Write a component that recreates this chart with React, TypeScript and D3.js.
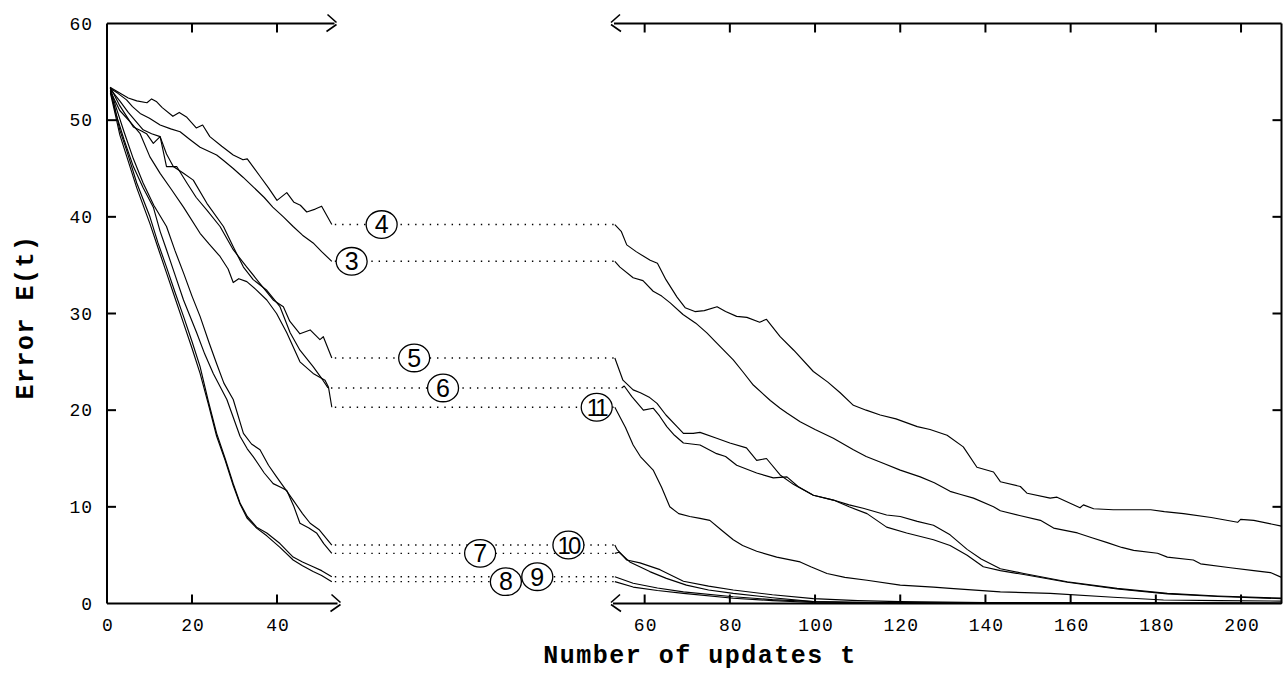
import React from "react";
import * as d3 from "d3";

type Pt = [number, number];

// ---------- axis ticks ----------
const yTicks = [0, 10, 20, 30, 40, 50, 60];
const xTicksLeft = [0, 20, 40];
const xTicksRight = [60, 80, 100, 120, 140, 160, 180, 200];

// ---------- data: [t, E(t)] ----------
const run4Left: Pt[] = [[0.7,53.4],[3,52.8],[5,52.3],[7,52.0],[9.4,51.8],[10.5,52.2],[11.7,51.9],[13,51.3],[15.5,50.4],[17,50.8],[18.8,50.3],[21,49.2],[22.5,49.5],[24.2,48.3],[27,47.3],[29.7,46.4],[32,45.9],[33,46.0],[36,44.2],[38,43.0],[40,41.7],[42.3,42.5],[44,41.5],[45.5,41.2],[47,40.5],[49,40.8],[50.5,41.1],[52.9,39.2]];
const run4Right: Pt[] = [[53,39.2],[54.5,38.5],[55.8,37.1],[58,36.4],[61.3,35.5],[63,35.2],[65,33.5],[67.6,31.7],[69.5,30.6],[71.8,30.2],[74,30.3],[77,30.7],[79,30.2],[81.6,29.7],[84,29.6],[87,29.1],[88.6,29.4],[91.8,27.6],[95,26.2],[99.6,24.0],[103,22.9],[105.9,21.8],[109,20.5],[112,20.0],[115.3,19.5],[119,19.1],[124,18.3],[127,18.0],[131,17.4],[134.8,16.2],[138,14.1],[141.9,13.6],[143.5,12.6],[148.2,12.1],[149.8,11.4],[155.2,10.9],[156.8,11.0],[162.2,9.9],[163,10.2],[165.4,9.8],[170,9.7],[178.8,9.7],[182,9.5],[186.5,9.3],[193,8.9],[199.2,8.4],[199.9,8.7],[203,8.6],[209.5,8.0]];

const run3Left: Pt[] = [[0.7,53.3],[2.5,52.8],[4.6,52.1],[6,51.4],[7.8,50.7],[10,50.2],[12.5,49.5],[15,49.1],[17.2,48.8],[19.5,48.0],[21.9,47.2],[25.8,46.4],[27.5,45.8],[29.7,45.0],[32,44.1],[34.4,43.1],[37,42.0],[39,41.0],[41.5,40.0],[43.8,39.0],[46,38.1],[48.5,37.3],[50.5,36.4],[52.9,35.4]];
const run3Right: Pt[] = [[53,35.4],[54.2,34.8],[57.3,33.7],[59.6,33.4],[62,32.3],[64,31.8],[66,31.1],[69,29.9],[72,29.0],[74.6,28.0],[77,26.9],[80.8,25.2],[83,24.0],[85.5,22.6],[89.5,21.0],[91.8,20.2],[93.4,19.7],[96.5,18.8],[100,18.0],[104.3,17.1],[109,15.9],[112,15.2],[116,14.5],[120,13.8],[124.7,13.1],[128,12.5],[131.7,11.6],[134,11.3],[137.2,10.9],[141.9,10.0],[143.5,9.6],[148,9.1],[152.9,8.6],[156,7.8],[161.6,7.3],[165,6.8],[168.6,6.3],[172,5.8],[174.8,5.5],[180.4,5.2],[182.7,4.8],[188.8,4.5],[190.5,4.1],[197.5,3.7],[203,3.4],[206.9,3.2],[209.5,2.7]];

const run5Left: Pt[] = [[0.8,53.4],[3,51.5],[6.2,49.3],[8,48.9],[9.3,48.6],[10.9,47.6],[12.5,48.3],[14,45.2],[16.4,45.2],[18.8,43.5],[21,42.0],[23.5,40.7],[26.6,39.0],[29.7,36.6],[32.9,34.8],[36,33.1],[39.1,31.4],[41.5,30.7],[43,29.2],[45.4,27.9],[47.8,28.3],[50.1,27.3],[50.9,27.6],[52.9,25.4]];
const run5Right: Pt[] = [[53,25.4],[54.9,23.1],[57.3,22.1],[59,21.8],[61.2,21.3],[62.9,20.7],[65,19.5],[67.6,18.3],[69.1,17.6],[71.4,17.6],[73,17.7],[76.9,17.1],[80,16.6],[83.9,16.1],[86.3,14.8],[88.6,15.0],[91.8,13.3],[95,12.3],[99.6,11.2],[104.3,10.7],[108,10.2],[111.3,9.85],[116.8,9.15],[120,9.0],[124,8.5],[127.8,8.1],[131.7,7.1],[135.7,5.6],[139,4.6],[143.5,3.6],[149,3.1],[159.2,2.25],[170.9,1.57],[182.7,1.05],[194.5,0.78],[209.5,0.55]];

const run6Left: Pt[] = [[0.8,53.2],[3,52.0],[5,50.8],[8.5,49.0],[10.5,48.6],[12.5,48.3],[14,46.5],[15.6,45.2],[18,44.5],[20.3,43.8],[23.5,41.4],[27.4,39.0],[29.7,36.9],[32.1,34.8],[34.4,33.5],[37.6,32.4],[40.7,30.7],[43.1,28.0],[45.4,26.2],[48.5,24.5],[50.8,23.1],[52,22.3]];
const run6Right: Pt[] = [[54.6,22.3],[55.2,22.5],[57,21.4],[59.7,20.0],[62,20.2],[63.5,19.4],[65.2,18.3],[67,17.4],[69.1,16.6],[71,16.5],[73,16.4],[76.9,15.5],[79,15.2],[81.6,14.3],[86.3,13.5],[90.2,13.0],[93.4,13.1],[96,12.1],[99.6,11.2],[104.3,10.7],[108,10.0],[112.2,9.3],[116.8,7.9],[121.5,7.3],[127.8,6.6],[131.7,6.0],[135.7,5.0],[139.5,3.8],[143.5,3.4],[149,3.0],[159.2,2.2],[170.9,1.5],[182.7,1.0],[194.5,0.72],[209.5,0.5]];

const run11Left: Pt[] = [[0.8,53.0],[3,51.0],[5.5,49.8],[7.8,48.6],[10.1,46.2],[12.5,44.5],[15.2,42.8],[18,41.0],[21.9,38.3],[24,37.2],[26.6,35.9],[28.5,34.6],[29.7,33.2],[31,33.6],[32.9,33.3],[35,32.5],[37.6,31.4],[39.9,30.0],[42.3,28.0],[45.4,25.0],[48.5,23.8],[51.3,23.1],[52.1,22.4],[52.9,20.3]];
const run11Right: Pt[] = [[53,20.3],[54.2,19.3],[55.5,18.2],[57.3,16.4],[59,15.2],[62,13.8],[64,12.0],[65.9,10.0],[68,9.3],[70.6,9.0],[73,8.8],[75.3,8.6],[78,7.6],[80.8,6.6],[83,6.0],[86.3,5.4],[91,4.8],[96.5,4.3],[99,3.8],[102.8,3.1],[107,2.7],[112.2,2.4],[120,1.9],[127.8,1.7],[131.7,1.57],[143.5,1.2],[155.2,1.05],[170,0.65],[181.8,0.36],[195,0.3],[209.5,0.25]];

const run10Left: Pt[] = [[0.8,53.3],[2,51.5],[4,48.8],[6.2,46.0],[8.5,43.5],[11,41.2],[14,39.0],[16,36.5],[18,34.2],[20,31.8],[21.9,29.7],[24,27.0],[25.8,24.8],[27.5,22.8],[29.7,21.1],[32.1,17.6],[34,16.5],[36,15.9],[38,14.3],[39.9,13.1],[42,11.8],[43.8,10.7],[46,9.3],[47.8,8.3],[50,7.6],[52.9,6.05]];
const run10Right: Pt[] = [[53,6.05],[53.5,5.6],[55.8,4.5],[58.9,4.2],[63.6,3.5],[69.1,2.3],[75,1.8],[80.8,1.4],[90,0.9],[99.6,0.5],[110,0.3],[120,0.2],[140,0.1],[170,0.05],[209.5,0.03]];

const run7Left: Pt[] = [[0.8,53.0],[2,50.8],[4,48.0],[6.2,45.2],[8.5,43.0],[10.9,41.0],[12.5,38.5],[14,36.6],[16,34.0],[18,31.4],[21.1,28.0],[23,25.8],[25,23.8],[28.2,21.1],[31.3,17.3],[33,16.0],[34.4,15.2],[37,13.5],[39.1,12.4],[41,12.0],[42.3,11.7],[44,10.0],[45.4,8.3],[47.5,7.8],[49.3,7.3],[51,6.2],[52.9,5.19]];
const run7Right: Pt[] = [[53,5.19],[54,5.3],[56.5,4.3],[61.2,3.3],[65.1,2.6],[69.8,1.9],[75,1.4],[80.8,1.05],[90,0.6],[99.6,0.2],[110,0.1],[130,0.05],[209.5,0.02]];

const run9Left: Pt[] = [[0.8,53.1],[2,51.0],[3,49.0],[4.6,46.9],[7,43.5],[10.1,40.0],[12,37.3],[14,34.8],[16,32.2],[18,29.7],[20,27.1],[21.9,24.5],[23.8,21.0],[25.8,17.6],[27.8,15.0],[29.7,12.4],[31.3,10.4],[33,9.0],[35.2,7.9],[37.6,7.3],[40.7,6.2],[43.8,4.8],[46,4.3],[48.5,3.8],[50.5,3.4],[52.9,2.77]];
const run9Right: Pt[] = [[53,2.77],[57.3,2.1],[63,1.6],[69.1,1.2],[80.8,0.7],[90,0.4],[99.6,0.2],[115,0.1],[140,0.05],[209.5,0.02]];

const run8Left: Pt[] = [[0.8,52.8],[2,50.5],[3,48.5],[4.6,46.3],[7,43.0],[10.1,39.3],[12,36.8],[14,34.2],[16,31.6],[18,29.0],[20,26.4],[21.9,23.8],[23.8,20.7],[25.8,17.3],[27.8,14.8],[29.7,12.2],[31.3,10.3],[33,8.8],[35.2,7.8],[37.6,7.0],[40.7,5.8],[43.8,4.5],[46,3.9],[48.5,3.3],[50.5,2.9],[52.9,2.26]];
const run8Right: Pt[] = [[53,2.26],[57.3,1.7],[63,1.35],[69.1,1.05],[80.8,0.54],[90,0.3],[99.6,0.1],[120,0.05],[209.5,0.02]];

const runNames = ["4", "3", "5", "6", "11", "10", "7", "9", "8"];
const runsLeft = [run4Left, run3Left, run5Left, run6Left, run11Left, run10Left, run7Left, run9Left, run8Left];
const runsRight = [run4Right, run3Right, run5Right, run6Right, run11Right, run10Right, run7Right, run9Right, run8Right];

// label placement along the axis gap (fraction of gap width) — layout only
const labelGapFrac = [0.176, 0.07, 0.291, 0.393, 0.936, 0.836, 0.524, 0.726, 0.615];

// ---------- layout ----------
const W = 1286;
const H = 690;
const xL = d3.scaleLinear().domain([0, 54]).range([107, 336.5]);
const xR = d3.scaleLinear().domain([52.1, 209.5]).range([611, 1281.5]);
const y = d3.scaleLinear().domain([0, 60]).range([603.5, 23.5]);

const tickFont = "'Liberation Mono', 'DejaVu Sans Mono', monospace";
const TL = 9;

export default function App() {
  const lineL = d3.line<Pt>().x((d) => xL(d[0])).y((d) => y(d[1]));
  const lineR = d3.line<Pt>().x((d) => xR(d[0])).y((d) => y(d[1]));
  const y0 = y(0);
  const y60 = y(60);
  const leftEnd = xL(54);
  const rightStart = xR(52.1);
  const rightEnd = xR(209.5);
  const gapA = xL(52.9);
  const gapB = xR(53);

  // broken-axis marks
  const breakRight = (vx: number, vy: number) =>
    `M${vx - 9},${vy - 9} L${vx},${vy - 1} M${vx},${vy + 1} L${vx - 10},${vy + 8}`;
  const breakLeft = (vx: number, vy: number) =>
    `M${vx + 9},${vy - 9} L${vx},${vy - 1} M${vx},${vy + 1} L${vx + 10},${vy + 8}`;

  return (
    <svg
      width={W}
      height={H}
      style={{ position: "absolute", left: 0, top: 0, background: "#fff" }}
    >
      <rect x={0} y={0} width={W} height={H} fill="#fff" />
      {/* curves */}
      <g fill="none" stroke="#000" strokeWidth={1.15} strokeLinejoin="round">
        {runsLeft.map((r, i) => (
          <path key={"l" + i} d={lineL(r) || ""} />
        ))}
        {runsRight.map((r, i) => (
          <path key={"r" + i} d={lineR(r) || ""} />
        ))}
      </g>
      {/* dotted connectors */}
      <g stroke="#000" strokeWidth={1.4} strokeDasharray="1.4 5.9" fill="none">
        {runsLeft.map((r, i) => {
          const a = r[r.length - 1];
          const b = runsRight[i][0];
          return (
            <line
              key={"c" + i}
              x1={xL(a[0]) + 3}
              x2={xR(b[0]) - 1}
              y1={y(a[1])}
              y2={y(a[1])}
            />
          );
        })}
      </g>
      {/* circled labels */}
      {runNames.map((n, i) => {
        const a = runsLeft[i][runsLeft[i].length - 1];
        const cx = gapA + labelGapFrac[i] * (gapB - gapA);
        const cy = y(a[1]);
        return (
          <g key={"lab" + n}>
            <ellipse cx={cx} cy={cy} rx={15.5} ry={13.8} fill="#fff" stroke="#000" strokeWidth={1.3} />
            <text
              x={cx + (n.length > 1 ? -0.5 : 0)}
              y={cy + 8.8}
              textAnchor="middle"
              fontFamily="'Liberation Sans', Arial, sans-serif"
              fontSize={n.length > 1 ? 24 : 25}
              letterSpacing={n.length > 1 ? -3 : 0}
              fill="#000"
            >
              {n}
            </text>
          </g>
        );
      })}
      {/* axes */}
      <g stroke="#000" strokeWidth={2} fill="none">
        <line x1={xL(0)} x2={xL(0)} y1={y60} y2={y0} />
        <line x1={rightEnd} x2={rightEnd} y1={y60} y2={y0} />
        <line x1={xL(0)} x2={leftEnd - 2} y1={y60} y2={y60} />
        <line x1={xL(0)} x2={leftEnd + 1} y1={y0} y2={y0} />
        <line x1={rightStart + 3} x2={rightEnd} y1={y60} y2={y60} />
        <line x1={rightStart + 2} x2={rightEnd} y1={y0} y2={y0} />
        <path d={breakRight(leftEnd, y60)} strokeWidth={1.6} />
        <path d={breakRight(leftEnd + 4, y0)} strokeWidth={1.6} />
        <path d={breakLeft(rightStart, y60)} strokeWidth={1.6} />
        <path d={breakLeft(rightStart, y0)} strokeWidth={1.6} />
        {yTicks.slice(1, -1).map((t) => (
          <g key={"yt" + t}>
            <line x1={xL(0)} x2={xL(0) + TL} y1={y(t)} y2={y(t)} />
            <line x1={rightEnd} x2={rightEnd - TL} y1={y(t)} y2={y(t)} />
          </g>
        ))}
        {xTicksLeft.slice(1).map((t) => (
          <g key={"xl" + t}>
            <line x1={xL(t)} x2={xL(t)} y1={y0} y2={y0 - TL} />
            <line x1={xL(t)} x2={xL(t)} y1={y60} y2={y60 + TL} />
          </g>
        ))}
        {xTicksRight.map((t) => (
          <g key={"xr" + t}>
            <line x1={xR(t)} x2={xR(t)} y1={y0} y2={y0 - TL} />
            <line x1={xR(t)} x2={xR(t)} y1={y60} y2={y60 + TL} />
          </g>
        ))}
      </g>
      {/* tick labels */}
      <g fontFamily={tickFont} fontSize={18} fill="#000" letterSpacing={1}>
        {yTicks.map((t) => (
          <text key={"yl" + t} x={93} y={y(t) + 6} textAnchor="end">
            {t}
          </text>
        ))}
        {xTicksLeft.map((t) => (
          <text key={"xlt" + t} x={xL(t) + 1} y={631} textAnchor="middle">
            {t}
          </text>
        ))}
        {xTicksRight.map((t) => (
          <text key={"xrt" + t} x={xR(t) + 1} y={631} textAnchor="middle">
            {t}
          </text>
        ))}
      </g>
      {/* axis titles */}
      <text
        x={700}
        y={663}
        textAnchor="middle"
        fontFamily={tickFont}
        fontWeight="bold"
        fontSize={25}
        letterSpacing={1.5}
        fill="#000"
      >
        Number of updates t
      </text>
      <text
        transform={`translate(33,317) rotate(-90)`}
        textAnchor="middle"
        fontFamily={tickFont}
        fontWeight="bold"
        fontSize={25}
        letterSpacing={1.5}
        fill="#000"
      >
        Error E(t)
      </text>
    </svg>
  );
}
